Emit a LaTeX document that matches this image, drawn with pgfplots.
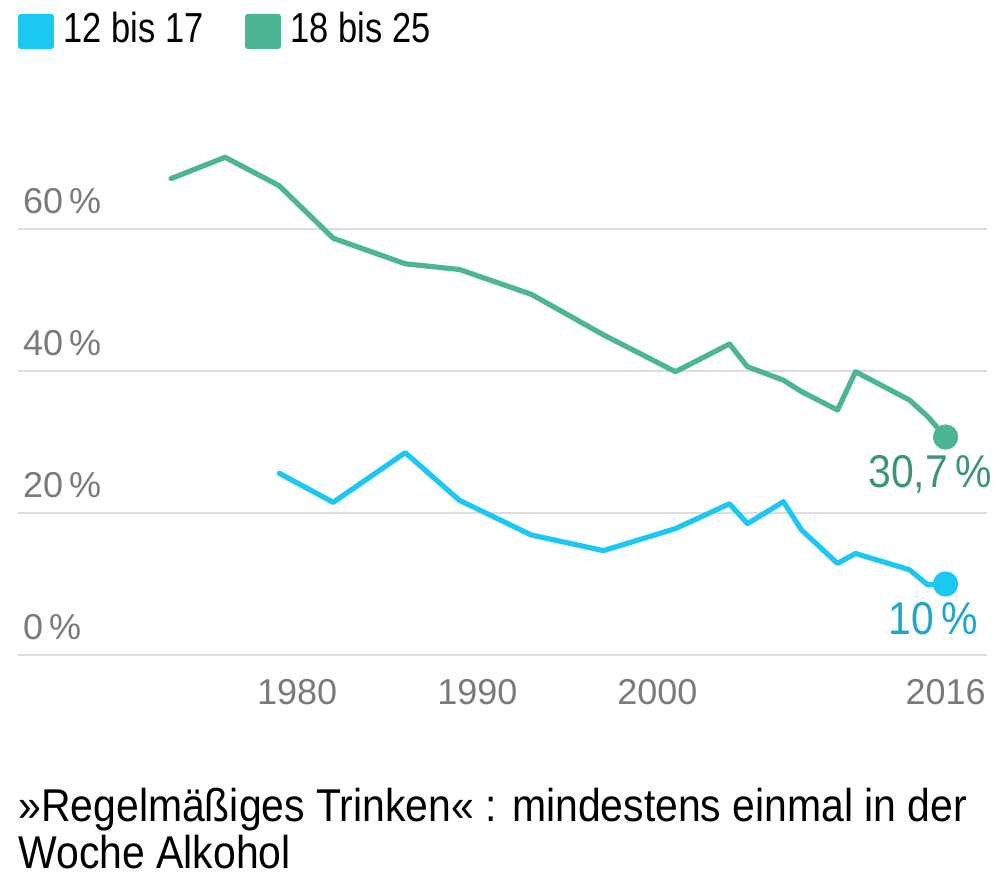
\documentclass[border=0pt]{standalone}
\usepackage{fontspec}
\setmainfont{Liberation Sans}
\newfontfamily\legendfont{Liberation Sans}[FakeStretch=0.82]
\newfontfamily\narrowfont{Liberation Sans}[FakeStretch=0.89]
\usepackage{pgfplots}
\pgfplotsset{compat=1.18}
\definecolor{jung}{HTML}{1CC8F2}
\definecolor{jungtext}{HTML}{1EA6CF}
\definecolor{alt}{HTML}{4BB596}
\definecolor{alttext}{HTML}{3E9479}
\definecolor{tickgray}{HTML}{7A7A7A}
\definecolor{gridgray}{HTML}{DCDCDC}

\begin{document}
\begin{tikzpicture}
\path[use as bounding box] (-9pt,-111pt) rectangle (491pt,327.5pt);
\begin{axis}[
    at={(0pt,0pt)}, anchor=south west,
    scale only axis, width=484.5pt, height=266.25pt,
    xmin=1964.5, xmax=2018.3, ymin=0, ymax=75,
    clip=false,
    axis line style={draw=none},
    tick style={draw=none},
    xtick={1980,1990,2000,2016},
    ytick={0,20,40,60},
    ymajorgrids,
    grid style={draw=gridgray, line width=1pt},
    /pgf/number format/1000 sep={},
    /pgf/number format/assume math mode=true,
    yticklabel={\pgfmathprintnumber{\tick}\,\%},
    yticklabel style={anchor=base west, inner sep=0pt, xshift=2.35pt, yshift=7.5pt,
        font=\fontsize{18}{20}\selectfont, text=tickgray},
    xticklabel style={anchor=north, inner sep=0pt, yshift=-12pt,
        font=\fontsize{18}{20}\selectfont, text=tickgray},
    legend columns=2,
    legend style={at={(axis description cs:0,1.2075)}, anchor=north west,
        draw=none, fill=none, inner sep=0pt,
        font=\legendfont\fontsize{21}{24}\selectfont,
        nodes={inner xsep=0pt, inner ysep=0pt},
        /tikz/every odd column/.append style={column sep=5pt},
        /tikz/every even column/.append style={column sep=21pt}},
    legend image code/.code={\fill[#1] (0pt,-8.5pt) rectangle (15pt,6.5pt);},
    every axis plot/.append style={line width=2.6pt, line join=round, line cap=round},
]
\addplot[jung] coordinates {
    (1979,25.6) (1982,21.5) (1986,28.5) (1989,21.8) (1993,16.9) (1997,14.7)
    (2001,17.8) (2004,21.3) (2005,18.5) (2007,21.6) (2008,17.6) (2010,12.9)
    (2011,14.3) (2014,12.0) (2015,9.9) (2016,10.0)
};
\addlegendentry{12 bis 17}
\addplot[alt] coordinates {
    (1973,67.1) (1976,70.1) (1979,66.1) (1982,58.7) (1986,55.1) (1989,54.3)
    (1993,50.8) (1997,45.1) (2001,39.9) (2004,43.8) (2005,40.6) (2007,38.7)
    (2008,37.1) (2010,34.5) (2011,39.9) (2014,35.9) (2015,33.6) (2016,30.7)
};
\addlegendentry{18 bis 25}
\addplot[jung, only marks, mark=*, mark size=5pt, forget plot] coordinates {(2016,10.0)};
\addplot[alt, only marks, mark=*, mark size=5pt, forget plot] coordinates {(2016,30.7)};
\node[anchor=base east, inner sep=0pt, text=alttext, font=\narrowfont\fontsize{23}{26}\selectfont]
    at (axis cs:2018.6,23.66) {30,7\,\%};
\node[anchor=base east, inner sep=0pt, text=jungtext, font=\narrowfont\fontsize{23}{26}\selectfont]
    at (axis cs:2017.83,2.82) {10\,\%};
\end{axis}
\node[anchor=base west, inner sep=0pt, font=\narrowfont\fontsize{23}{28}\selectfont]
    at (0pt,-83pt) {»Regelmäßiges Trinken« : mindestens einmal in der};
\node[anchor=base west, inner sep=0pt, font=\narrowfont\fontsize{23}{28}\selectfont]
    at (0pt,-106.5pt) {Woche Alkohol};
\end{tikzpicture}
\end{document}
